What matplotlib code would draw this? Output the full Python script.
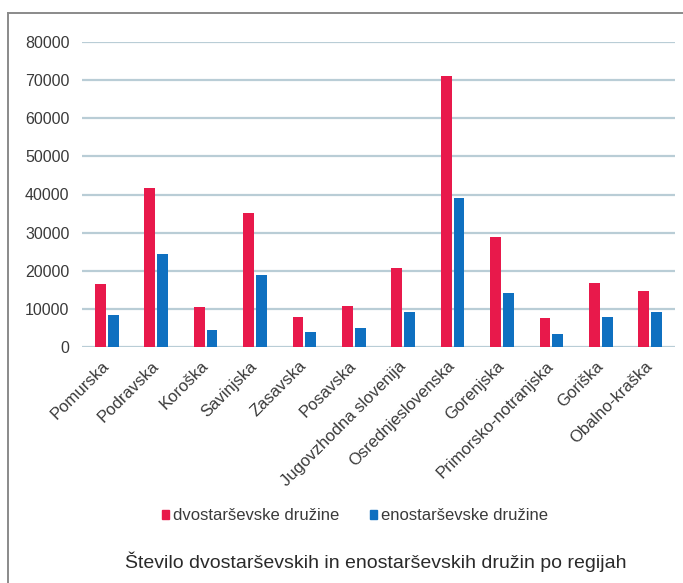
import matplotlib
matplotlib.use("Agg")
import matplotlib.pyplot as plt
import numpy as np
from matplotlib.patches import Rectangle
from matplotlib.lines import Line2D

plt.rcParams['font.family'] = ['Liberation Sans', 'DejaVu Sans']

regions = ["Pomurska", "Podravska", "Koroška", "Savinjska", "Zasavska", "Posavska",
           "Jugovzhodna slovenija", "Osrednjeslovenska", "Gorenjska",
           "Primorsko-notranjska", "Goriška", "Obalno-kraška"]
dvostarsevske = [16500, 41800, 10400, 35200, 7800, 10700, 20800, 71000, 28800, 7600, 16800, 14600]
enostarsevske = [8300, 24400, 4400, 18800, 4000, 5100, 9300, 39200, 14100, 3300, 8000, 9200]
series_names = ["dvostarševske družine", "enostarševske družine"]
title = "Število dvostarševskih in enostarševskih družin po regijah"
yticks = [0, 10000, 20000, 30000, 40000, 50000, 60000, 70000, 80000]

RED = "#e8194b"
BLUE = "#0f70c0"
GRID = "#b9cdd6"
TEXT = "#3a3a3a"

W, H = 683, 583
fig = plt.figure(figsize=(W / 100, H / 100), dpi=100)
fig.patch.set_facecolor("white")

# frame lines on the left and top edges
fig.add_artist(Line2D([8 / W, 8 / W], [0, 1 - 13 / H], transform=fig.transFigure,
                      color="#8a8a8a", lw=1.4))
fig.add_artist(Line2D([8 / W, 1], [1 - 13 / H, 1 - 13 / H], transform=fig.transFigure,
                      color="#8a8a8a", lw=1.4))

ax = fig.add_axes([82 / W, (H - 347) / H, (675 - 82) / W, (347 - 42) / H])
x = np.arange(len(regions))
bw = 0.22
ax.bar(x - 0.13, dvostarsevske, width=bw, color=RED, zorder=3)
ax.bar(x + 0.13, enostarsevske, width=bw, color=BLUE, zorder=3)

ax.set_xlim(-0.5, len(regions) - 0.5)
ax.set_ylim(0, 80000)
ax.set_yticks(yticks)
ax.set_yticklabels([str(v) for v in yticks], fontsize=11.5, color=TEXT)
ax.yaxis.grid(True, color=GRID, lw=1.6, zorder=0)
ax.set_axisbelow(True)
for s in ax.spines.values():
    s.set_visible(False)
ax.tick_params(axis="y", length=0, pad=9)
ax.tick_params(axis="x", length=0, pad=12)

ax.set_xticks(x)
ax.set_xticklabels(regions, rotation=45, ha="right", va="center",
                   rotation_mode="anchor", fontsize=12, color=TEXT)

# legend row
handles = [Rectangle((0, 0), 1, 1, color=RED), Rectangle((0, 0), 1, 1, color=BLUE)]
fig.legend(handles, series_names, loc="center", bbox_to_anchor=(355 / W, 1 - 516 / H),
           ncol=2, frameon=False, fontsize=12, handlelength=0.42, handleheight=0.42,
           handletextpad=0.25, columnspacing=1.8, labelcolor=TEXT)

fig.text(375.5 / W, 1 - 562 / H, title, ha="center", va="center", fontsize=14, color="#2a2a2a")

fig.savefig("out.png", dpi=100)
